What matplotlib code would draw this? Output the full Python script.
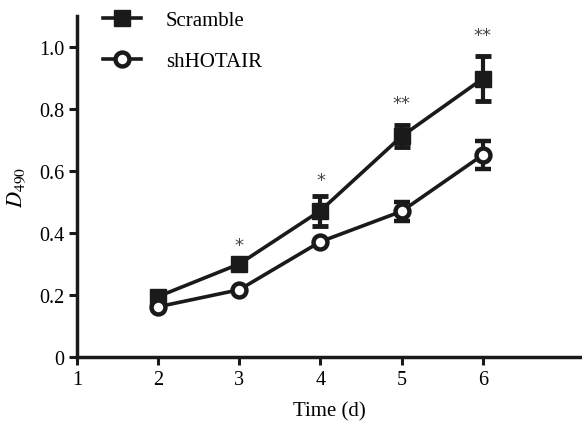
import matplotlib
matplotlib.use("Agg")
import matplotlib.pyplot as plt
from matplotlib.lines import Line2D

# data
days = [2, 3, 4, 5, 6]
scramble = [0.195, 0.300, 0.472, 0.712, 0.898]
scramble_err = [0.0, 0.0, 0.048, 0.035, 0.072]
shhotair = [0.162, 0.217, 0.372, 0.470, 0.652]
shhotair_err = [0.0, 0.0, 0.0, 0.030, 0.045]
sig_labels = ["", "*", "*", "**", "**"]
sig_y = [None, 0.36, 0.57, 0.82, 1.04]

plt.rcParams['font.family'] = ['Liberation Serif', 'DejaVu Serif']
plt.rcParams['mathtext.fontset'] = 'stix'

fig = plt.figure(figsize=(5.82, 4.35), dpi=100)
ax = fig.add_axes([0.132, 0.177, 0.868, 0.784])

ax.errorbar(days, scramble, yerr=scramble_err, color='#1a1a1a', lw=2.6,
            marker='s', ms=11, mfc='#1a1a1a', mec='#1a1a1a',
            elinewidth=3, capsize=6, capthick=3.5, zorder=3)
ax.errorbar(days, shhotair, yerr=shhotair_err, color='#1a1a1a', lw=2.6,
            marker='o', ms=10, mfc='white', mec='#1a1a1a', mew=3.2,
            elinewidth=3, capsize=6, capthick=3.5, zorder=3)

for d, s, yy in zip(days, sig_labels, sig_y):
    if s:
        ax.text(d, yy, s, ha='center', va='center', fontsize=13,
                color='#444444', family='DejaVu Sans')

ax.set_xlim(1, 7.22)
ax.set_ylim(0, 1.1)
ax.set_xticks([1, 2, 3, 4, 5, 6])
ax.set_yticks([0, 0.2, 0.4, 0.6, 0.8, 1.0])
ax.set_yticklabels(['0', '0.2', '0.4', '0.6', '0.8', '1.0'])
for side in ['top', 'right']:
    ax.spines[side].set_visible(False)
for side in ['left', 'bottom']:
    ax.spines[side].set_linewidth(2.5)
    ax.spines[side].set_color('#1a1a1a')
ax.tick_params(width=2.2, length=6, labelsize=14.5, color='#1a1a1a', pad=3)

ax.set_xlabel('Time (d)', fontsize=15, labelpad=9)
ax.set_ylabel(r'$D_{\mathrm{490}}$', fontsize=16, labelpad=8)

handles = [
    Line2D([], [], color='#1a1a1a', lw=2.6, marker='s', ms=11, mfc='#1a1a1a'),
    Line2D([], [], color='#1a1a1a', lw=2.6, marker='o', ms=10, mfc='white', mew=3.2),
]
ax.legend(handles, ['Scramble', 'shHOTAIR'], loc='upper left',
          bbox_to_anchor=(0.015, 1.07), frameon=False, fontsize=15,
          handlelength=1.8, labelspacing=1.0, handletextpad=1.2)

fig.savefig('out.png', dpi=100)
